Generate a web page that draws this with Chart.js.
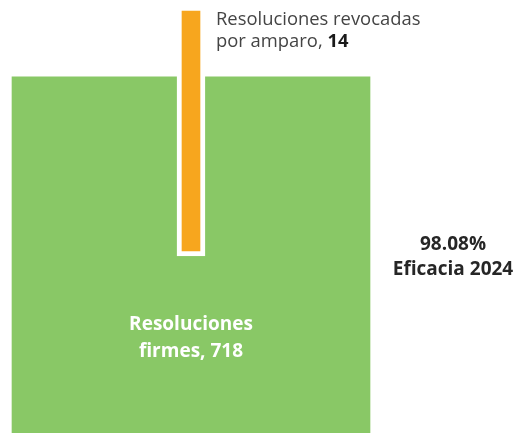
<!DOCTYPE html>
<html>
<head>
<meta charset="utf-8">
<script src="https://cdn.jsdelivr.net/npm/chart.js@4"></script>
<style>
    html, body { margin: 0; padding: 0; background: #ffffff; }
    #wrap { width: 514px; height: 433px; position: relative; }
</style>
</head>
<body>
<div id="wrap"><canvas id="eficaciaChart"></canvas></div>
<script>
// Data
const categories = ['Resoluciones firmes', 'Resoluciones revocadas por amparo'];
const values = [718, 14];
const efficacyText = ['98.08%', 'Eficacia 2024'];

// Layout of the inset (orange) bar on the value scale
const Y_MAX = 861;
const INSET_FROM = 357;

const GREEN = '#89c866';
const ORANGE = '#f7a61e';
const FONT = "'Open Sans', 'Noto Sans', sans-serif";

const labelsPlugin = {
    id: 'labelsPlugin',
    afterDatasetsDraw(chart) {
        const ctx = chart.ctx;
        const green = chart.getDatasetMeta(0).data[0];
        const orange = chart.getDatasetMeta(1).data[0];
        ctx.save();
        ctx.textBaseline = 'alphabetic';

        // label inside the big square
        ctx.fillStyle = '#ffffff';
        ctx.textAlign = 'center';
        ctx.font = 'bold 19px ' + FONT;
        ctx.fillText('Resoluciones', green.x, green.base - 103);
        ctx.fillText('firmes, ' + values[0], green.x, green.base - 76);

        // label next to the thin bar
        const lx = orange.x + orange.width / 2 + 11;
        ctx.textAlign = 'left';
        ctx.font = '18.4px ' + FONT;
        ctx.fillStyle = '#444444';
        ctx.fillText('Resoluciones revocadas', lx, 25);
        const pre = 'por amparo, ';
        ctx.fillText(pre, lx, 47);
        const w = ctx.measureText(pre).width;
        ctx.font = 'bold 18.4px ' + FONT;
        ctx.fillStyle = '#1a1a1a';
        ctx.fillText(String(values[1]), lx + w, 47);

        // efficacy note
        ctx.textAlign = 'center';
        ctx.fillStyle = '#262626';
        ctx.font = 'bold 19px ' + FONT;
        ctx.fillText(efficacyText[0], 453, 250);
        ctx.fillText(efficacyText[1], 453, 275);
        ctx.restore();
    }
};

new Chart(document.getElementById('eficaciaChart'), {
    type: 'bar',
    data: {
        labels: ['2024'],
        datasets: [
            {
                label: categories[0],
                data: [[0, values[0]]],
                backgroundColor: GREEN,
                borderWidth: 0,
                barThickness: 358,
                grouped: false,
                order: 2
            },
            {
                label: categories[1],
                data: [[INSET_FROM, Y_MAX]],
                backgroundColor: ORANGE,
                borderColor: '#ffffff',
                borderWidth: 5,
                borderSkipped: false,
                barThickness: 28,
                grouped: false,
                order: 1
            }
        ]
    },
    options: {
        responsive: true,
        maintainAspectRatio: false,
        animation: false,
        layout: { padding: { top: 6, right: 132, left: 0, bottom: 0 } },
        plugins: {
            legend: { display: false },
            tooltip: { enabled: false }
        },
        scales: {
            x: { display: false },
            y: { display: false, min: 0, max: Y_MAX }
        }
    },
    plugins: [labelsPlugin]
});
</script>
</body>
</html>
